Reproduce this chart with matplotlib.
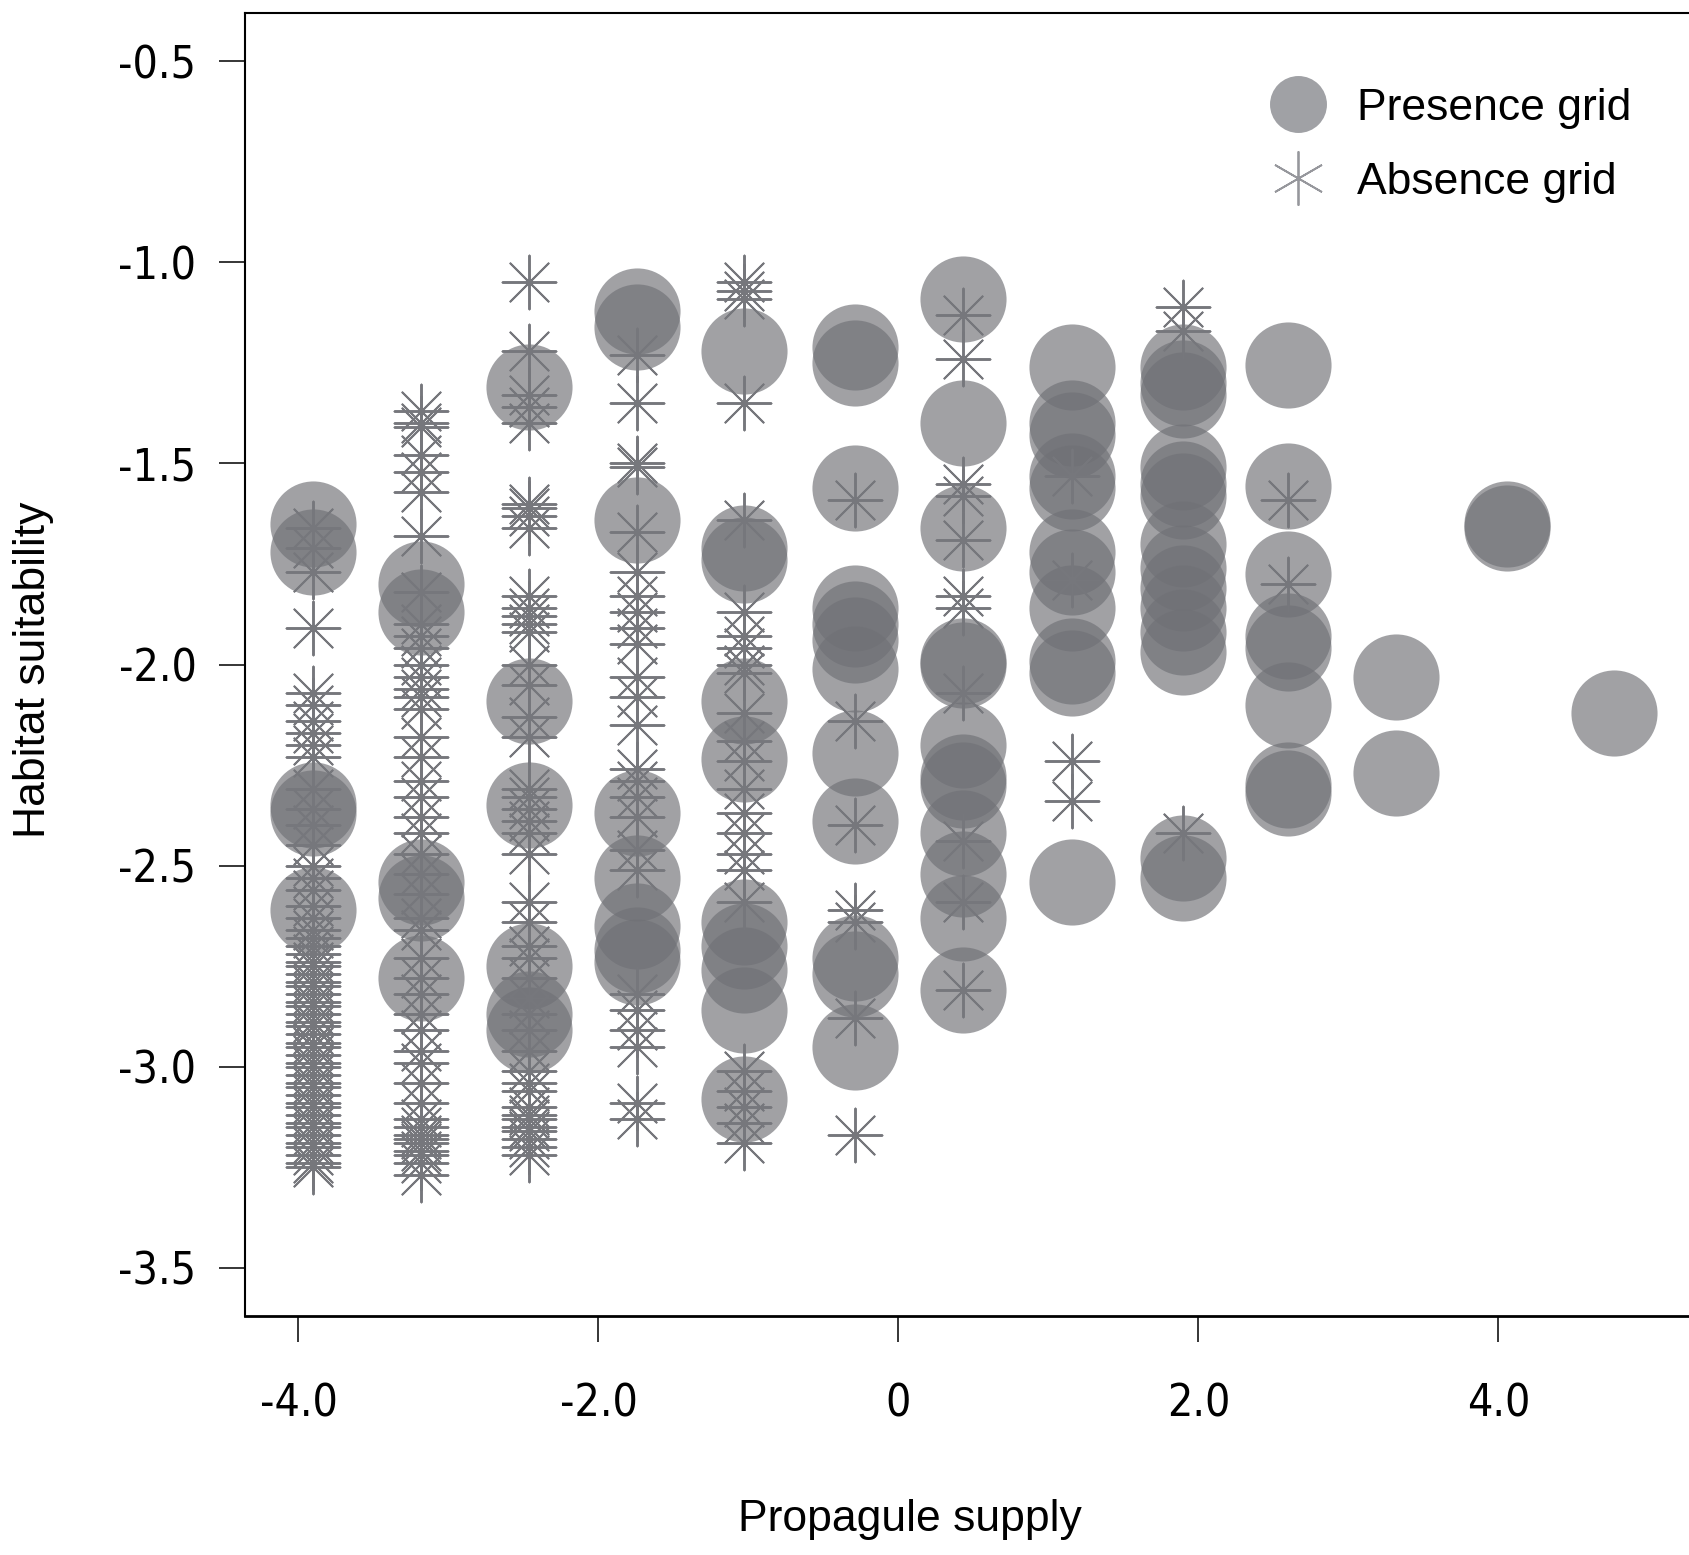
import os
import matplotlib
matplotlib.use("Agg")
import matplotlib.pyplot as plt
from matplotlib import font_manager
from matplotlib.lines import Line2D

# x positions of the propagule supply classes
x_cols = [-3.90, -3.18, -2.46, -1.74, -1.03, -0.29, 0.43, 1.16, 1.90, 2.60, 3.32, 4.06, 4.77]

# habitat suitability of presence grids, one list per column
presence = [
    [-1.65, -1.72, -2.35, -2.37, -2.61],
    [-1.80, -1.87, -2.54, -2.58, -2.78],
    [-1.31, -2.09, -2.35, -2.75, -2.87, -2.91],
    [-1.12, -1.16, -1.64, -2.37, -2.53, -2.65, -2.71, -2.74],
    [-1.22, -1.71, -1.74, -2.09, -2.235, -2.64, -2.70, -2.76, -2.86, -3.08],
    [-1.21, -1.25, -1.56, -1.86, -1.90, -1.94, -2.01, -2.22, -2.39, -2.73, -2.77, -2.95],
    [-1.09, -1.40, -1.66, -1.99, -2.00, -2.20, -2.28, -2.30, -2.42, -2.52, -2.63, -2.81],
    [-1.26, -1.40, -1.43, -1.53, -1.56, -1.72, -1.77, -1.86, -1.99, -2.02, -2.54],
    [-1.26, -1.30, -1.33, -1.51, -1.55, -1.58, -1.70, -1.76, -1.81, -1.86, -1.92, -1.97, -2.48, -2.53],
    [-1.255, -1.555, -1.775, -1.93, -1.96, -2.10, -2.30, -2.32],
    [-2.03, -2.27],
    [-1.65, -1.66],
    [-2.12],
]

# habitat suitability of absence grids
absence = [
    [-1.66, -1.71, -1.77, -1.91, -2.07, -2.10, -2.14, -2.17, -2.20, -2.23, -2.31, -2.36,
     -2.40, -2.45, -2.50, -2.53, -2.56, -2.60, -2.63, -2.66, -2.68, -2.70, -2.72, -2.74,
     -2.75, -2.77, -2.79, -2.80, -2.82, -2.84, -2.85, -2.87, -2.89, -2.90, -2.92, -2.94,
     -2.95, -2.97, -2.99, -3.00, -3.02, -3.04, -3.05, -3.07, -3.09, -3.10, -3.12, -3.14,
     -3.15, -3.17, -3.19, -3.20, -3.22, -3.24, -3.25],
    [-1.37, -1.40, -1.41, -1.48, -1.52, -1.57, -1.68, -1.82, -1.90, -1.93, -1.96, -2.00,
     -2.03, -2.06, -2.08, -2.11, -2.18, -2.23, -2.29, -2.33, -2.38, -2.42, -2.47, -2.52,
     -2.57, -2.63, -2.66, -2.73, -2.78, -2.82, -2.87, -2.91, -2.96, -2.99, -3.04, -3.09,
     -3.13, -3.15, -3.17, -3.18, -3.19, -3.21, -3.22, -3.24, -3.27],
    [-1.05, -1.22, -1.33, -1.36, -1.40, -1.60, -1.61, -1.63, -1.66, -1.83, -1.86, -1.88,
     -1.90, -1.92, -2.00, -2.05, -2.13, -2.18, -2.31, -2.33, -2.36, -2.39, -2.42, -2.47,
     -2.59, -2.64, -2.70, -2.73, -2.78, -2.83, -2.87, -2.91, -2.96, -3.01, -3.04, -3.06,
     -3.10, -3.12, -3.13, -3.15, -3.16, -3.18, -3.20, -3.22],
    [-1.23, -1.35, -1.50, -1.51, -1.67, -1.77, -1.83, -1.87, -1.91, -1.95, -2.03, -2.08,
     -2.15, -2.26, -2.29, -2.33, -2.38, -2.46, -2.51, -2.82, -2.86, -2.91, -2.95, -3.09,
     -3.13],
    [-1.05, -1.07, -1.09, -1.35, -1.64, -1.87, -1.93, -1.96, -2.00, -2.02, -2.12, -2.19,
     -2.24, -2.31, -2.37, -2.42, -2.47, -2.51, -2.59, -3.01, -3.06, -3.10, -3.14, -3.19],
    [-1.59, -2.14, -2.40, -2.61, -2.64, -2.88, -3.17],
    [-1.13, -1.24, -1.55, -1.58, -1.69, -1.83, -1.86, -2.07, -2.44, -2.59, -2.81],
    [-1.53, -1.79, -2.24, -2.34],
    [-1.11, -1.17, -2.42],
    [-1.59, -1.80],
    [],
    [],
    [],
]

circle_col = (112 / 255, 113 / 255, 118 / 255)
star_col = (118 / 255, 119 / 255, 124 / 255)
star_marker = (8, 2, 0)   # 8 armed asterisk


def narrow_font():
    # tick labels in the original use a condensed face, take one if installed
    wanted = ["LiberationSansNarrow-Regular.ttf", "DejaVuSansCondensed.ttf",
              "NotoSans-Condensed.ttf", "NotoSans-CondensedRegular.ttf",
              "OpenSans-CondensedRegular.ttf", "RobotoCondensed-Regular.ttf"]
    found = {os.path.basename(f.fname): f.fname for f in font_manager.fontManager.ttflist}
    for name in wanted:
        if name in found:
            return font_manager.FontProperties(fname=found[name], size=32)
    return font_manager.FontProperties(family=["Liberation Sans", "DejaVu Sans"],
                                       stretch="condensed", size=31)


plt.rcParams["font.family"] = ["Liberation Sans", "DejaVu Sans"]
tick_prop = narrow_font()

fig = plt.figure(figsize=(16.89, 15.55), dpi=100)
ax = fig.add_axes([0.1451, 0.1537, 1 - 0.1451, 0.8379])

for x, ys in zip(x_cols, presence):
    ax.scatter([x] * len(ys), ys, s=3844, marker="o", color=circle_col,
               alpha=0.66, linewidths=0, zorder=2)

for x, ys in zip(x_cols, absence):
    if not ys:
        continue
    ax.scatter([x] * len(ys), ys, s=1500, marker=star_marker, color=star_col,
               linewidths=1.4, zorder=3)

ax.set_xlim(-4.356, 5.27)
ax.set_ylim(-3.62, -0.38)

ax.set_xticks([-4, -2, 0, 2, 4])
ax.set_xticklabels(["-4.0", "-2.0", "0", "2.0", "4.0"], fontproperties=tick_prop)
ax.set_yticks([-0.5, -1.0, -1.5, -2.0, -2.5, -3.0, -3.5])
ax.set_yticklabels(["-0.5", "-1.0", "-1.5", "-2.0", "-2.5", "-3.0", "-3.5"],
                   fontproperties=tick_prop)
ax.tick_params(axis="both", direction="out", length=19, width=1.1, color="black")
ax.tick_params(axis="x", pad=29)
ax.tick_params(axis="y", pad=16)

ax.spines["right"].set_visible(False)
for side in ["top", "left"]:
    ax.spines[side].set_linewidth(1.5)
ax.spines["bottom"].set_linewidth(2.0)

fig.text(0.539, 0.023, "Propagule supply", ha="center", va="center", fontsize=32)
fig.text(0.020, 0.569, "Habitat suitability", ha="center", va="center",
         rotation=90, fontsize=32)

# legend, drawn with its own handles (the legend asterisk has 6 arms)
handles = [
    Line2D([], [], linestyle="none", marker="o", markersize=41,
           markerfacecolor=(160 / 255, 161 / 255, 165 / 255), markeredgewidth=0),
    Line2D([], [], linestyle="none", marker=(6, 2, 0), markersize=39,
           color=(150 / 255, 151 / 255, 156 / 255), markeredgewidth=1.3),
]
ax.legend(handles, ["Presence grid", "Absence grid"], loc="upper left",
          bbox_to_anchor=(0.749, 0.9435), bbox_transform=fig.transFigure,
          frameon=False, fontsize=32, handlelength=1.5, handletextpad=0.56,
          labelspacing=0.74, borderpad=0, borderaxespad=0)

fig.savefig("out.png", dpi=100)
